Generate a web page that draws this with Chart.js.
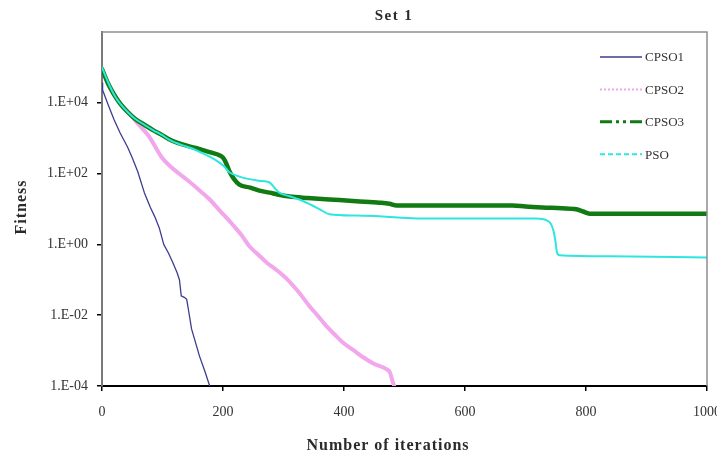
<!DOCTYPE html>
<html><head><meta charset="utf-8">
<script src="https://cdn.jsdelivr.net/npm/chart.js@4.4.1/dist/chart.umd.min.js"></script>
<style>html,body{margin:0;padding:0;background:#fff;overflow:hidden}</style>
</head><body>
<canvas id="c" width="717" height="458"></canvas>
<script>
// ---- data ----
const chartTitle = 'Set 1';
const xTitle = 'Number of iterations';
const yTitle = 'Fitness';
const xTickValues = [0, 200, 400, 600, 800, 1000];
const yTickValues = [1e-4, 1e-2, 1, 1e2, 1e4];
const seriesNames = ['CPSO1', 'CPSO2', 'CPSO3', 'PSO'];

const cpso1Iter = [0, 1, 10, 20, 30, 42, 50, 59, 70, 80, 87, 95, 102, 110, 117, 124, 128, 131, 136, 140, 144, 148, 155, 161, 170, 178];
const cpso1Fit  = [3.6e4, 2.3e4, 8.9e3, 3.3e3, 1.4e3, 575, 280, 115, 29, 11, 6.2, 2.8, 1.0, 0.56, 0.31, 0.16, 0.10, 0.035, 0.032, 0.028, 0.011, 0.0041, 0.0016, 7.1e-4, 2.6e-4, 1e-4];

const cpso2Iter = [0, 10, 20, 30, 42, 50, 60, 78, 98, 110, 125, 140, 160, 178, 195, 216, 232, 244, 258, 272, 290, 307, 325, 343, 357, 371, 385, 398, 415, 431, 450, 470, 476, 480, 483];
const cpso2Fit  = [8.9e4, 3.5e4, 1.7e4, 9.5e3, 5.6e3, 4.0e3, 2.5e3, 1.1e3, 300, 178, 107, 68, 35, 18.6, 8.9, 3.6, 1.7, 0.87, 0.52, 0.31, 0.18, 0.10, 0.045, 0.018, 0.0095, 0.0049, 0.0028, 0.0017, 0.00105, 6.6e-4, 4.2e-4, 3.0e-4, 2.4e-4, 1.4e-4, 1e-4];

const cpso3Iter = [0, 10, 20, 30, 42, 55, 70, 85, 98, 110, 125, 140, 153, 165, 181, 194, 200, 205, 211, 218, 227, 245, 260, 277, 290, 310, 340, 376, 420, 459, 475, 487, 550, 679, 700, 728, 760, 784, 795, 806, 1000];
const cpso3Fit  = [8.9e4, 3.5e4, 1.7e4, 9.5e3, 5.6e3, 3.5e3, 2.4e3, 1.66e3, 1.26e3, 955, 741, 617, 537, 468, 389, 331, 282, 200, 112, 71, 49, 40, 33, 29, 25.7, 22.4, 20.4, 18.6, 16.6, 15.1, 14.1, 12.6, 12.6, 12.6, 11.7, 11.0, 10.5, 9.8, 8.5, 7.4, 7.4];

const psoIter = [0, 10, 20, 30, 42, 55, 70, 85, 98, 110, 125, 140, 153, 167, 181, 194, 202, 211, 225, 239, 260, 277, 285, 293, 310, 326, 345, 360, 376, 420, 459, 520, 718, 735, 742, 746, 749, 752, 756, 839, 1000];
const psoFit  = [1.0e5, 3.8e4, 1.7e4, 9.5e3, 5.6e3, 3.5e3, 2.4e3, 1.66e3, 1.26e3, 933, 708, 575, 479, 372, 282, 204, 158, 107, 85, 72, 63, 56, 40, 29, 22.9, 18.6, 13.2, 9.8, 7.1, 6.5, 6.2, 5.4, 5.4, 4.8, 3.8, 2.5, 1.4, 0.60, 0.49, 0.46, 0.43];

const pts = (xs, ys) => xs.map((x, i) => ({ x: x, y: ys[i] }));
const SERIF = "'Liberation Serif', 'Times New Roman', serif";

const fmtExp = v => {
  const e = Math.round(Math.log10(v));
  return '1.E' + (e >= 0 ? '+' : '-') + String(Math.abs(e)).padStart(2, '0');
};

const decor = {
  id: 'decor',
  afterDatasetsDraw(chart) {
    const { ctx, chartArea: a } = chart;
    ctx.save();
    ctx.strokeStyle = '#8f8f8f';
    ctx.lineWidth = 1.5;
    ctx.beginPath();
    ctx.moveTo(a.left, a.top);
    ctx.lineTo(a.right, a.top);
    ctx.lineTo(a.right, a.bottom);
    ctx.stroke();
    ctx.restore();
  },
  afterDraw(chart) {
    const { ctx } = chart;
    ctx.save();
    ctx.fillStyle = '#2a2a2a';
    ctx.textBaseline = 'middle';
    ctx.textAlign = 'center';
    ctx.font = 'bold 15px ' + SERIF;
    ctx.letterSpacing = '1.5px';
    ctx.fillText(chartTitle, 394, 16);
    ctx.font = 'bold 16px ' + SERIF;
    ctx.letterSpacing = '1px';
    ctx.fillText(xTitle, 388, 446);
    ctx.save();
    ctx.translate(22, 207);
    ctx.rotate(-Math.PI / 2);
    ctx.fillText(yTitle, 0, 0);
    ctx.restore();
    // legend
    ctx.letterSpacing = '0px';
    ctx.font = '13px ' + SERIF;
    ctx.textAlign = 'left';
    chart.data.datasets.forEach((ds, i) => {
      const y = 57 + i * 32.4;
      ctx.strokeStyle = ds.borderColor;
      ctx.lineWidth = ds.legendWidth;
      ctx.setLineDash(ds.legendDash);
      ctx.beginPath();
      ctx.moveTo(600, y);
      ctx.lineTo(642, y);
      ctx.stroke();
      ctx.setLineDash([]);
      ctx.fillStyle = '#333';
      ctx.fillText(ds.label, 645, y + 1);
    });
    ctx.restore();
  }
};

new Chart(document.getElementById('c'), {
  type: 'line',
  data: {
    datasets: [
      { label: seriesNames[0], data: pts(cpso1Iter, cpso1Fit), borderColor: '#3d3d8f', borderWidth: 1.3, order: 4, tension: 0, legendDash: [], legendWidth: 1.3 },
      { label: seriesNames[1], data: pts(cpso2Iter, cpso2Fit), borderColor: '#f2a6ec', borderWidth: 4, order: 3, cubicInterpolationMode: 'monotone', legendDash: [2, 2], legendWidth: 2 },
      { label: seriesNames[2], data: pts(cpso3Iter, cpso3Fit), borderColor: '#127a12', borderWidth: 4.5, order: 2, cubicInterpolationMode: 'monotone', legendDash: [12, 4, 3, 4, 3, 4], legendWidth: 3 },
      { label: seriesNames[3], data: pts(psoIter, psoFit), borderColor: '#2ee6e0', borderWidth: 2, order: 1, cubicInterpolationMode: 'monotone', legendDash: [5, 3], legendWidth: 2 }
    ]
  },
  options: {
    responsive: false,
    animation: false,
    devicePixelRatio: 1,
    layout: { padding: { top: 32, right: 10, left: 0, bottom: 0 } },
    elements: { point: { radius: 0 }, line: { borderCapStyle: 'round', borderJoinStyle: 'round' } },
    plugins: { legend: { display: false }, title: { display: false }, tooltip: { enabled: false } },
    scales: {
      x: {
        type: 'linear', min: 0, max: 1000,
        afterBuildTicks: s => { s.ticks = xTickValues.map(v => ({ value: v })); },
        afterFit: s => { s.height = 72; s.paddingLeft = 0; s.paddingRight = 0; },
        ticks: { font: { family: SERIF, size: 14 }, color: '#333', padding: 13, maxRotation: 0, autoSkip: false, callback: v => String(v) },
        grid: { display: true, drawOnChartArea: false, drawTicks: true, tickLength: 5, color: '#000', lineWidth: 1.5 },
        border: { display: true, color: '#000', width: 2 }
      },
      y: {
        type: 'logarithmic', min: 1e-4, max: 1e6,
        afterBuildTicks: s => { s.ticks = yTickValues.map(v => ({ value: v })); },
        afterFit: s => { s.width = 102; s.paddingTop = 0; s.paddingBottom = 0; },
        ticks: { font: { family: SERIF, size: 14 }, color: '#333', padding: 9, autoSkip: false, callback: v => fmtExp(v) },
        grid: { display: true, drawOnChartArea: false, drawTicks: true, tickLength: 5, color: '#000', lineWidth: 1.5 },
        border: { display: true, color: '#7a7a7a', width: 2 }
      }
    }
  },
  plugins: [decor]
});
</script>
</body></html>
